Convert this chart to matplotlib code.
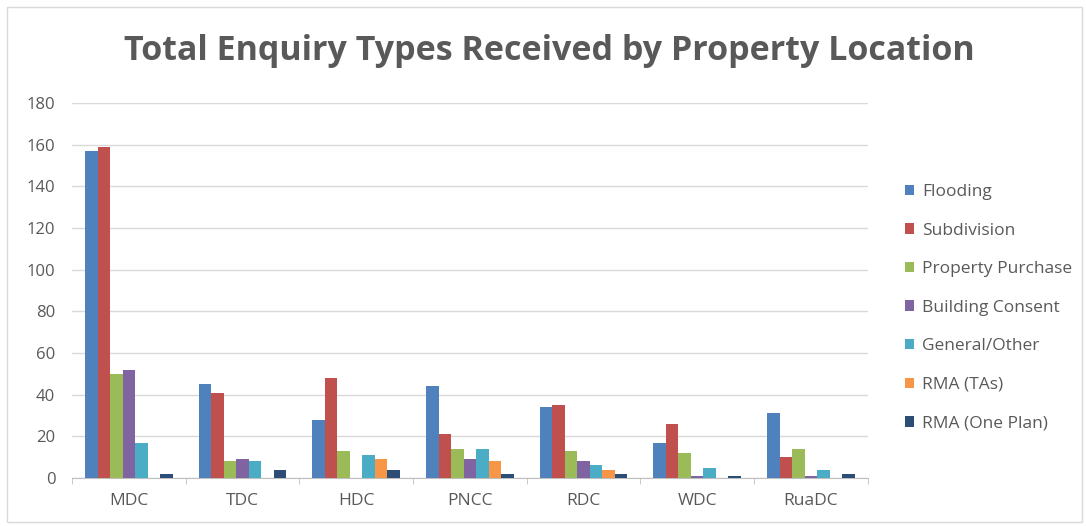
import matplotlib.pyplot as plt
import numpy as np
from matplotlib.patches import Rectangle

# District councils along the x axis
locations = ["MDC", "TDC", "HDC", "PNCC", "RDC", "WDC", "RuaDC"]

# Enquiry counts per type
flooding = [157, 45, 28, 44, 34, 17, 31]
subdivision = [159, 41, 48, 21, 35, 26, 10]
property_purchase = [50, 8, 13, 14, 13, 12, 14]
building_consent = [52, 9, 0, 9, 8, 1, 1]
general_other = [17, 8, 11, 14, 6, 5, 4]
rma_tas = [0, 0, 9, 8, 4, 0, 0]
rma_one_plan = [2, 4, 4, 2, 2, 1, 2]

series = [
    ("Flooding", flooding, "#4F81BD"),
    ("Subdivision", subdivision, "#C0504D"),
    ("Property Purchase", property_purchase, "#9BBB59"),
    ("Building Consent", building_consent, "#8064A2"),
    ("General/Other", general_other, "#4BACC6"),
    ("RMA (TAs)", rma_tas, "#F79646"),
    ("RMA (One Plan)", rma_one_plan, "#2C4D75"),
]

plt.rcParams['font.family'] = ['Open Sans', 'DejaVu Sans']
text_grey = "#595959"

fig = plt.figure(figsize=(10.86, 5.26), dpi=100)
ax = fig.add_axes([0.0663, 0.0913, 0.7327, 0.7127])

# light frame around the whole chart
fig.patches.append(Rectangle((7 / 1086, 4 / 526), 1075 / 1086, 515 / 526,
                             transform=fig.transFigure, fill=False,
                             edgecolor="#D9D9D9", linewidth=1))

x = np.arange(len(locations))
bar_w = 0.11
for i, (name, vals, col) in enumerate(series):
    offset = (i - 3) * bar_w
    ax.bar(x + offset, vals, width=bar_w, color=col, label=name, zorder=3)

ax.set_ylim(0, 180)
ax.set_xlim(-0.5, len(locations) - 0.5)
ax.set_yticks(range(0, 181, 20))
ax.grid(axis="y", color="#D9D9D9", linewidth=1, zorder=0)

ax.set_xticks(x)
ax.set_xticklabels(locations)
ax.set_xticks(np.arange(-0.5, len(locations), 1), minor=True)
ax.tick_params(axis="x", which="major", length=0, pad=11, labelsize=12.5, labelcolor=text_grey)
ax.tick_params(axis="x", which="minor", length=4, color="#BFBFBF")
ax.tick_params(axis="y", length=0, pad=12, labelsize=12, labelcolor=text_grey)

for side in ["top", "right", "left"]:
    ax.spines[side].set_visible(False)
ax.spines["bottom"].set_color("#BFBFBF")

fig.text(0.506, 0.903, "Total Enquiry Types Received by Property Location",
         ha="center", va="center", fontsize=24.5, fontweight="bold", color=text_grey)

leg = ax.legend(loc="center left", bbox_to_anchor=(1.027, 0.454), frameon=False,
                fontsize=12.5, labelspacing=1.3, handlelength=0.55, handleheight=0.55,
                handletextpad=0.45, labelcolor=text_grey)

plt.savefig("out.png", dpi=100)
